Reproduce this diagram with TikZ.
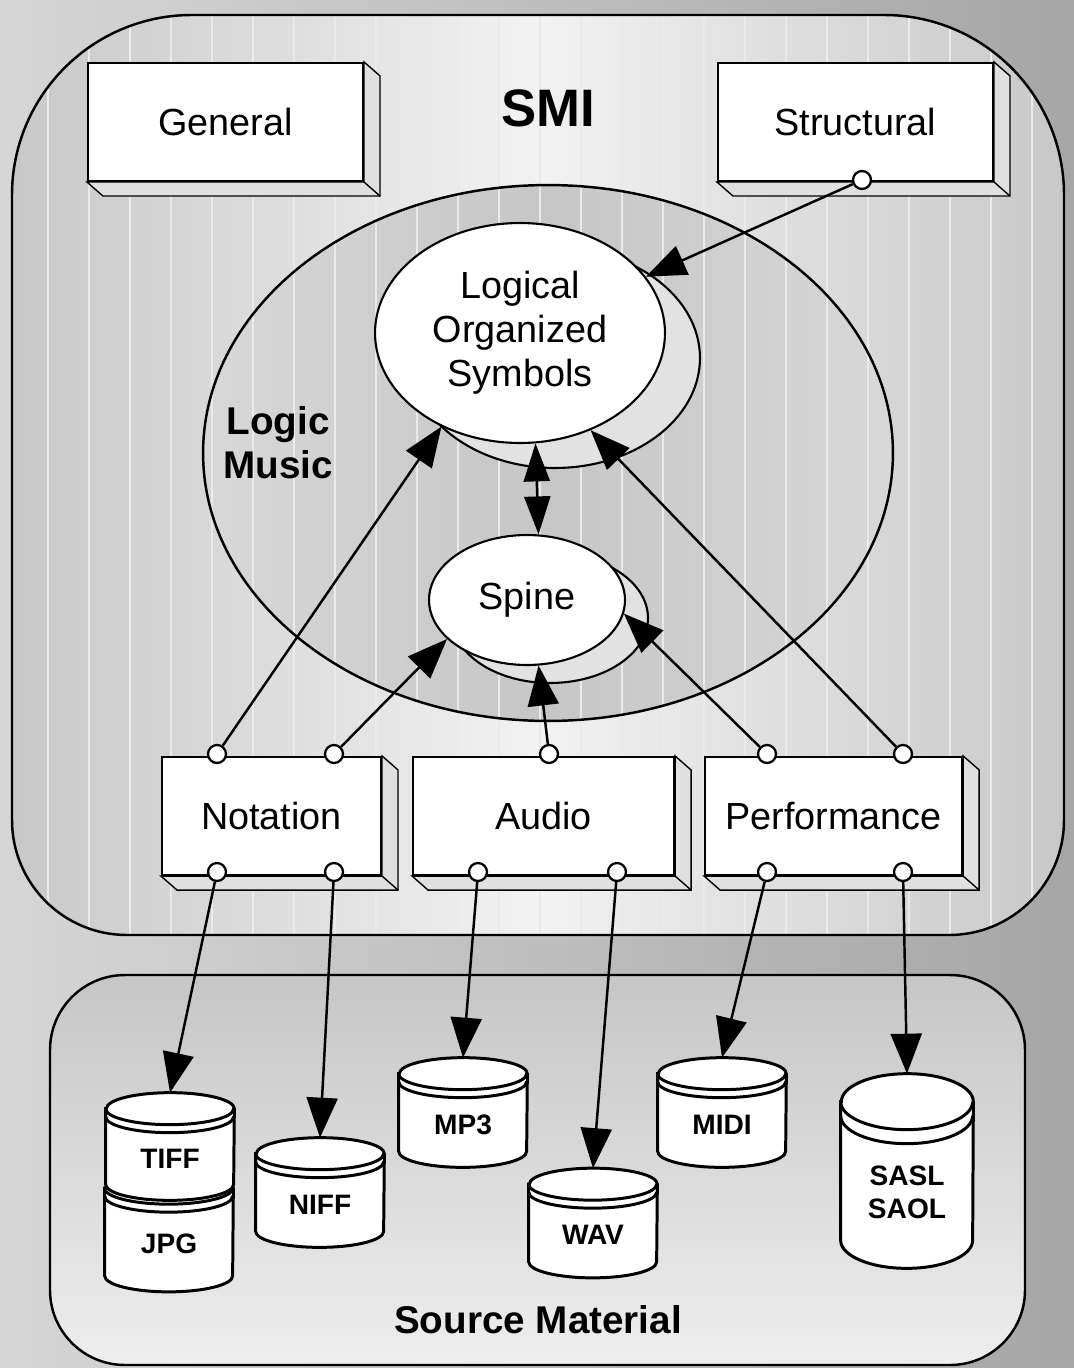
\documentclass[tikz,border=0pt]{standalone}
\usepackage{fontspec}
\setmainfont{Liberation Sans}
\usepackage{tikz}
\usetikzlibrary{arrows.meta,positioning,calc,backgrounds,shapes.geometric}
\definecolor{photogray}{HTML}{A6A6A6}
\definecolor{photolight}{HTML}{D6D6D6}
\definecolor{panelgray}{HTML}{C8C8C8}
\definecolor{panellight}{HTML}{F2F2F2}
\definecolor{stripegray}{HTML}{EAEAEA}
\definecolor{ovalgray}{HTML}{D8D8D8}
\definecolor{ovaldark}{HTML}{C6C6C6}
\definecolor{sidegray}{HTML}{E0E0E0}
\definecolor{shadegray}{HTML}{E2E2E2}
\definecolor{sourcetop}{HTML}{C6C6C6}
\definecolor{sourcebottom}{HTML}{EEEEEE}
\tikzset{
  blockbox/.style={
    rectangle, draw, line width=1.2pt, fill=white,
    minimum height=2.36cm, inner sep=0pt,
    font=\fontsize{21.5}{26}\selectfont
  },
  sideface/.style={draw, line width=0.8pt, fill=sidegray},
  port/.style={circle, draw, line width=1.3pt, fill=white, inner sep=0pt, minimum size=0.36cm},
  linkarrow/.style={-{Triangle[length=0.8cm, width=0.62cm]}, line width=1.4pt},
  oval/.style={
    ellipse, draw, line width=1.2pt, fill=white, inner sep=0pt,
    align=center, font=\fontsize{21.5}{25}\selectfont
  },
  ovalshadow/.style={draw, line width=1.2pt, fill=shadegray},
  drum/.style={
    rectangle, inner sep=0pt, minimum width=2.56cm, minimum height=1.06cm,
    align=center, font=\bfseries\fontsize{16}{19}\selectfont
  },
  drumface/.style={draw, line width=1.7pt, fill=white},
  heading/.style={align=center, font=\bfseries\fontsize{22}{25}\selectfont},
}

\begin{document}
\begin{tikzpicture}[x=0.02cm, y=-0.02cm]
  \useasboundingbox (0,0) rectangle (1074,1368);

  % SMI panel
  \node[font=\bfseries\fontsize{30}{34}\selectfont] (smi) at (548,108) {SMI};
  \node[blockbox, minimum width=5.5cm] (general) at (225.5,122) {General};
  \node[blockbox, minimum width=5.5cm] (structural) at (855.5,122) {Structural};
  \node[port] (stdn) at (862,180) {};

  \node[oval, minimum width=5.8cm, minimum height=4.4cm] (los) at (520,333) {Logical\\Organized\\Symbols};
  \node[oval, minimum width=3.92cm, minimum height=2.6cm] (spine) at (527,600) {Spine};
  \node[heading] (logicmusic) at (278,443) {Logic\\Music};

  \node[blockbox, minimum width=4.38cm] (notation) at (271.5,816) {Notation};
  \node[blockbox, minimum width=5.22cm, right=0.6cm of notation] (audio) {Audio};
  \node[blockbox, minimum width=5.14cm, right=0.58cm of audio] (performance) {Performance};

  \node[port] (ntup1) at (217,754) {};
  \node[port] (ntup2) at (334,754) {};
  \node[port] (audup) at (549,754) {};
  \node[port] (pfup1) at (767,754) {};
  \node[port] (pfup2) at (903,754) {};
  \node[port] (ntdn1) at (217,872) {};
  \node[port] (ntdn2) at (334,872) {};
  \node[port] (auddn1) at (478,872) {};
  \node[port] (auddn2) at (617,872) {};
  \node[port] (pfdn1) at (767,872) {};
  \node[port] (pfdn2) at (903,872) {};

  % source material
  \node[drum, minimum height=1.02cm] (tiff) at (170,1158.5) {TIFF};
  \node[drum, minimum height=1.26cm] (jpg) at (169,1244) {JPG};
  \node[drum] (niff) at (320,1204.5) {NIFF};
  \node[drum] (mp3) at (463,1124.5) {MP3};
  \node[drum] (wav) at (593,1235) {WAV};
  \node[drum] (midi) at (722,1124.5) {MIDI};
  \node[drum, minimum width=2.64cm, minimum height=1.92cm] (sasl) at (907,1192) {SASL\\SAOL};
  \node[heading] (source) at (538,1320) {Source Material};

  \begin{scope}[on background layer]
    \shade[left color=photolight, right color=photogray] (0,0) rectangle (1074,1368);

    \shade[left color=panelgray, right color=panelgray, middle color=panellight]
      (12,500) [rounded corners=3.6cm] -- (12,15) -- (1064,15) -- (1064,500)
      [rounded corners=2.3cm] -- (1064,935) -- (12,935) -- cycle;
    \begin{scope}
      \clip (12,500) [rounded corners=3.6cm] -- (12,15) -- (1064,15) -- (1064,500)
        [rounded corners=2.3cm] -- (1064,935) -- (12,935) -- cycle;
      \foreach \sx in {48,89,...,1070}
        \draw[stripegray, line width=0.8pt] (\sx,15) -- (\sx,935);
    \end{scope}
    \draw[line width=1.4pt]
      (12,500) [rounded corners=3.6cm] -- (12,15) -- (1064,15) -- (1064,500)
      [rounded corners=2.3cm] -- (1064,935) -- (12,935) -- cycle;

    \shade[left color=ovalgray, right color=ovalgray, middle color=ovaldark]
      (548,453) ellipse [x radius=6.9cm, y radius=5.36cm];
    \begin{scope}
      \clip (548,453) ellipse [x radius=6.9cm, y radius=5.36cm];
      \foreach \sx in {48,89,...,1070}
        \draw[stripegray, line width=0.8pt] (\sx,185) -- (\sx,722);
    \end{scope}
    \draw[line width=1.4pt] (548,453) ellipse [x radius=6.9cm, y radius=5.36cm];

    \shade[top color=sourcetop, bottom color=sourcebottom, draw, line width=1.4pt, rounded corners=1.5cm]
      (50,975) rectangle (1025,1365);

    % extruded box sides
    \foreach \n in {general,structural,notation,audio,performance} {
      \draw[sideface] (\n.north east) -- ++(16,14) -- ($(\n.south east)+(16,14)$)
        -- ($(\n.south west)+(16,14)$) -- (\n.south west) -- (\n.south east) -- cycle;
      \draw[line width=0.8pt] (\n.south east) -- ++(16,14);
    }

    % ellipse shadows
    \draw[ovalshadow] ($(los.center)+(35,25)$) ellipse [x radius=2.9cm, y radius=2.2cm];
    \draw[ovalshadow] ($(spine.center)+(23,18)$) ellipse [x radius=1.96cm, y radius=1.3cm];

    % drums
    \foreach \n/\r/\e/\d in {jpg/1.28cm/0.32cm/0.16cm, tiff/1.28cm/0.32cm/0.16cm,
        niff/1.28cm/0.32cm/0.16cm, mp3/1.28cm/0.32cm/0.16cm, wav/1.28cm/0.32cm/0.16cm,
        midi/1.28cm/0.32cm/0.16cm, sasl/1.32cm/0.56cm/0.28cm} {
      \draw[drumface] ([yshift=\e+\d]\n.north west) -- (\n.south west)
        arc[start angle=180, end angle=360, x radius=\r, y radius=\e]
        -- ([yshift=\e+\d]\n.north east)
        arc[start angle=0, end angle=180, x radius=\r, y radius=\e] -- cycle;
      \draw[line width=1.7pt] ([yshift=\e+\d]\n.north west)
        arc[start angle=180, end angle=360, x radius=\r, y radius=\e];
      \draw[line width=1.7pt] ([yshift=\e]\n.north west)
        arc[start angle=180, end angle=360, x radius=\r, y radius=\e];
    }
  \end{scope}

  \draw[linkarrow] (stdn) -- (los);
  \draw[linkarrow] (ntup1) -- (los.230);
  \draw[linkarrow] (pfup2) -- (los.-54);
  \draw[linkarrow] (ntup2) -- (spine.206);
  \draw[linkarrow] (audup) -- (spine.-80);
  \draw[linkarrow] (pfup1) -- (spine.-8);
  \draw[{Triangle[length=0.76cm, width=0.52cm]}-{Triangle[length=0.76cm, width=0.52cm]}, line width=1.4pt]
    (los.-82) -- (spine.80);

  \draw[linkarrow] (ntdn1) -- ([yshift=0.8cm]tiff.north);
  \draw[linkarrow] (ntdn2) -- ([yshift=0.8cm]niff.north);
  \draw[linkarrow] (auddn1) -- ([yshift=0.8cm]mp3.north);
  \draw[linkarrow] (auddn2) -- ([yshift=0.8cm]wav.north);
  \draw[linkarrow] (pfdn1) -- ([yshift=0.8cm]midi.north);
  \draw[linkarrow] (pfdn2) -- ([yshift=1.4cm]sasl.north);
\end{tikzpicture}
\end{document}
